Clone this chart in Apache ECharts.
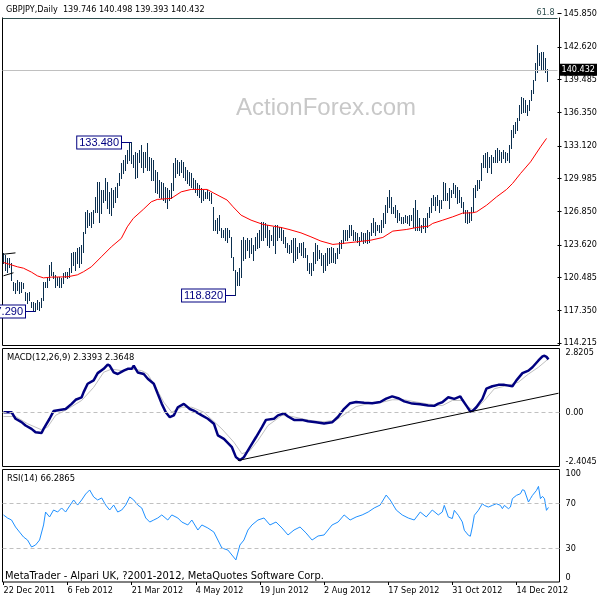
<!DOCTYPE html>
<html>
<head>
<meta charset="utf-8">
<title>GBPJPY Daily</title>
<script src="https://cdn.jsdelivr.net/npm/echarts@6.0.0/dist/echarts.min.js"></script>
<style>
  html, body { margin: 0; padding: 0; background: #fff; }
  #chart { width: 600px; height: 600px; }
</style>
</head>
<body>
<div id="chart"></div>
<script>
// daily bars, index 0 = 22 Dec 2011, one slot per weekday
const highs = [
  122.79,122.63,122.31,122.31,121.83,120.07,119.91,120.23,120.07,120.07,
  119.91,119.11,118.95,119.11,118.15,118.15,117.99,118.31,118.15,118.47,
  120.07,120.07,120.39,121.67,121.99,121.03,120.71,120.55,120.55,120.39,
  120.87,121.03,121.03,121.35,122.79,122.95,122.95,123.27,123.43,123.59,
  124.87,126.79,126.96,126.64,126.79,126.96,128.24,129.68,129.68,128.88,
  128.88,130.00,129.68,128.72,129.04,128.88,129.20,129.52,130.48,131.44,
  131.76,132.24,132.72,133.36,133.48,132.24,132.56,132.40,132.72,133.20,
  132.56,132.56,133.36,132.08,
  131.92,131.76,130.80,130.64,129.84,129.68,129.52,129.20,129.04,128.88,
  129.52,131.44,131.92,131.76,131.60,131.76,131.60,131.12,130.80,130.64,
  130.48,130.00,129.84,129.52,129.36,129.04,128.88,128.72,128.88,128.72,
  128.56,127.28,126.00,126.16,126.48,125.19,125.03,125.19,125.19,125.03,
  124.39,122.47,121.19,121.03,121.35,124.07,124.39,124.07,124.23,124.07,
  124.23,123.59,124.39,124.71,125.03,125.83,125.83,125.67,125.51,125.03,
  124.55,125.35,125.51,125.51,125.35,125.35,125.03,124.39,123.75,123.59,
  124.07,124.23,124.23,123.43,123.75,123.75,123.91,123.27,122.63,121.83,
  121.83,122.95,123.75,123.59,123.11,122.79,122.63,122.79,123.27,123.27,
  123.43,123.27,122.79,123.27,123.91,124.07,125.03,125.03,125.03,125.51,
  125.51,125.03,124.87,124.71,124.39,124.87,124.71,124.71,125.03,124.87,
  125.67,126.16,125.83,125.51,125.51,125.99,126.64,127.44,128.24,128.88,
  128.24,127.28,127.44,126.96,126.64,126.32,126.32,126.48,126.40,126.48,
  126.48,127.12,127.92,126.96,126.16,125.51,126.16,126.16,126.64,127.28,
  128.08,128.40,128.24,128.40,127.92,127.92,129.68,129.52,128.56,129.04,
  128.88,129.52,129.36,129.20,128.88,128.24,127.76,126.96,126.96,126.80,
  127.28,129.04,129.36,129.84,129.84,131.44,132.24,132.40,132.56,132.08,
  132.24,132.08,132.72,132.88,132.72,132.56,132.72,132.56,132.40,133.20,
  134.64,135.12,135.44,135.76,137.05,137.85,137.69,137.53,137.05,137.53,
  138.49,139.45,141.05,142.81,142.01,142.17,142.17,141.53,140.498
];
const lows = [
  121.90,121.19,121.03,121.51,120.23,119.27,118.95,119.27,118.95,119.11,
  119.43,118.31,117.99,118.31,117.67,117.35,117.29,117.45,117.35,117.67,
  118.31,119.59,119.59,120.23,120.71,120.39,119.59,119.75,119.59,119.59,
  119.91,120.55,120.39,120.55,121.03,121.67,121.19,121.83,121.51,121.83,
  122.95,124.71,125.35,125.51,125.35,125.67,126.79,126.79,125.83,126.64,
  127.76,127.92,127.12,126.64,126.48,127.28,127.76,128.24,129.36,130.00,
  130.48,130.80,131.44,131.76,131.44,131.12,130.00,130.16,131.60,131.12,
  130.64,131.12,130.80,130.80,
  129.84,129.84,128.72,128.56,128.24,128.08,127.92,127.76,127.12,127.92,
  128.08,128.88,130.16,130.48,130.32,130.64,130.16,129.84,129.52,129.36,
  129.20,129.04,128.72,128.40,128.24,127.76,127.92,128.08,128.08,127.92,
  127.60,125.03,125.03,124.71,125.03,124.39,124.39,124.07,123.91,124.39,
  122.47,121.19,118.82,119.75,119.75,120.55,122.15,122.31,123.11,122.47,
  122.79,122.15,123.11,123.27,123.43,124.07,124.07,124.39,123.59,123.43,
  124.07,123.59,122.79,124.07,124.39,124.07,123.75,123.43,122.95,122.79,
  122.95,121.99,122.15,122.31,122.95,122.63,122.47,122.47,121.19,120.87,
  120.71,121.19,121.83,122.15,122.31,121.67,121.03,121.19,121.67,121.83,
  121.99,121.99,121.83,122.31,122.79,123.27,123.75,124.07,124.07,124.39,
  124.55,124.07,124.07,123.91,123.59,124.07,123.75,123.91,123.75,123.91,
  124.55,124.87,124.55,125.03,124.87,124.87,125.35,125.67,126.80,127.28,
  126.64,126.64,126.32,125.83,126.00,125.67,125.67,125.83,125.67,125.51,
  126.00,125.35,125.03,125.03,125.03,124.87,125.19,124.87,125.35,126.32,
  126.80,127.44,126.96,127.44,126.80,127.12,127.92,127.92,127.92,127.12,
  128.24,128.56,128.24,127.60,127.76,127.28,126.64,125.84,125.68,125.84,
  126.00,126.80,128.24,128.88,129.04,129.84,131.12,131.12,130.64,131.12,
  130.48,131.60,131.60,131.60,131.76,131.60,131.92,131.60,131.76,131.60,
  132.88,134.00,134.32,134.64,135.60,136.24,136.40,136.40,136.08,136.56,
  137.53,138.17,139.45,140.25,140.89,140.41,140.41,140.25,139.393
];

// moving average: [bar, price]
const maLine = [
  [0,121.93],[7,121.51],[10,121.38],[14,121.00],[17,120.64],[20,120.45],[24,120.52],[32,120.55],
  [37,120.74],[40,121.03],[44,121.51],[49,122.47],[54,123.43],[59,124.24],[62,125.35],[65,126.16],
  [70,127.02],[74,127.75],[77,127.98],[84,128.08],[89,128.71],[94,128.94],[102,128.94],[105,128.62],
  [112,127.92],[115,127.27],[119,126.47],[124,125.99],[130,125.58],[139,125.29],[143,125.10],
  [149,124.77],[154,124.39],[159,123.98],[165,123.66],[170,123.76],[177,123.91],[184,124.07],
  [190,124.33],[195,124.94],[202,125.10],[207,125.29],[213,125.42],[215,125.68],[220,125.99],
  [225,126.31],[230,126.67],[235,126.70],[237,126.79],[242,127.43],[247,128.23],[252,128.94],
  [255,129.52],[259,130.48],[264,131.59],[269,133.03],[272,133.84]
];

// MACD(12,26,9): [bar, value]
const macdMain = [
  [0,0.00],[4,0.00],[6,-0.29],[9,-0.44],[11,-0.59],[14,-0.74],[16,-0.89],[19,-0.92],[20,-0.74],
  [23,-0.29],[25,0.05],[28,0.10],[31,0.14],[34,0.37],[36,0.55],[39,0.66],[40,0.89],[42,1.26],
  [45,1.41],[47,1.73],[50,1.92],[52,2.11],[53,2.06],[55,1.76],[57,1.69],[60,1.84],[62,1.92],
  [64,1.92],[65,2.06],[67,1.76],[70,1.69],[72,1.48],[75,1.26],[77,0.81],[79,0.37],[81,0.00],
  [83,-0.22],[85,-0.14],[87,0.22],[90,0.37],[93,0.14],[95,0.07],[99,-0.14],[102,-0.29],
  [105,-0.51],[107,-1.03],[110,-1.18],[114,-1.55],[116,-1.99],[118,-2.13],[120,-1.99],
  [123,-1.55],[126,-1.11],[129,-0.66],[131,-0.34],[135,-0.29],[137,-0.14],[140,-0.05],
  [142,-0.19],[145,-0.34],[149,-0.34],[152,-0.40],[156,-0.45],[160,-0.50],[164,-0.45],
  [167,-0.20],[170,0.15],[173,0.40],[176,0.45],[180,0.42],[184,0.40],[188,0.45],[191,0.60],
  [194,0.70],[197,0.62],[200,0.48],[204,0.38],[208,0.35],[212,0.30],[215,0.28],[217,0.38],
  [219,0.44],[222,0.66],[225,0.59],[228,0.70],[229,0.55],[231,0.29],[233,0.03],[234,0.05],
  [236,0.22],[239,0.59],[241,1.04],[244,1.15],[247,1.21],[250,1.21],[254,1.15],[256,1.41],
  [259,1.73],[262,1.84],[264,1.99],[267,2.29],[269,2.47],[270,2.50],[271,2.45],[272,2.3393]
];
const macdSignal = [
  [0,-0.19],[6,-0.19],[12,-0.51],[19,-0.78],[22,-0.66],[26,-0.14],[32,0.14],[39,0.52],
  [45,1.10],[50,1.77],[54,1.91],[59,1.84],[64,1.91],[69,1.84],[72,1.69],[76,1.10],[80,0.44],
  [84,0.00],[89,0.22],[94,0.22],[100,0.00],[109,-0.74],[115,-1.33],[119,-1.84],[123,-1.70],
  [127,-1.25],[132,-0.59],[139,-0.14],[144,-0.19],[149,-0.29],[154,-0.38],[160,-0.42],
  [166,-0.35],[171,-0.05],[176,0.25],[182,0.38],[188,0.42],[194,0.55],[200,0.55],[206,0.45],
  [212,0.36],[216,0.32],[219,0.29],[224,0.52],[229,0.52],[232,0.22],[235,0.07],[240,0.52],
  [245,1.04],[252,1.19],[257,1.33],[262,1.69],[267,1.99],[272,2.3648]
];
const macdTrend = [[117,-2.14],[277,0.84]];

// RSI(14): [bar, value]
const rsiLine = [
  [0,59.6],[2,56.9],[4,55.1],[6,48.9],[8,44.4],[10,40.0],[12,37.3],[14,31.1],[16,32.9],[18,37.3],
  [20,50.7],[21,62.2],[23,57.8],[25,64.0],[27,62.2],[29,65.8],[31,62.2],[33,67.6],[35,72.9],[37,68.4],
  [39,72.9],[41,78.2],[43,81.8],[45,75.6],[47,72.9],[49,74.7],[51,68.4],[53,64.0],[55,68.4],[57,62.2],
  [59,64.0],[61,68.4],[63,75.6],[65,72.9],[67,68.4],[69,65.8],[71,56.9],[73,53.3],[75,55.1],[77,56.9],
  [79,59.6],[82,55.1],[84,59.6],[87,56.9],[89,53.3],[92,50.7],[94,55.1],[97,46.2],[99,50.7],[102,48.0],
  [105,44.4],[107,37.3],[109,30.2],[112,28.4],[114,24.0],[116,19.6],[118,32.9],[120,37.3],[122,46.2],
  [124,50.7],[127,55.1],[130,56.9],[133,50.7],[136,53.3],[139,48.0],[142,41.8],[145,46.2],[148,48.9],
  [151,43.6],[154,37.3],[157,40.9],[160,41.8],[164,50.7],[167,53.3],[170,59.6],[173,55.1],[176,57.8],
  [179,59.6],[182,62.2],[185,65.8],[188,68.4],[191,77.3],[193,72.9],[196,64.0],[199,59.6],[202,56.9],
  [205,55.1],[208,62.2],[211,57.8],[214,64.0],[217,59.6],
  [219,62.2],[220,68.1],[222,57.8],[224,56.4],[225,63.7],[227,59.3],[229,53.4],[230,46.0],[232,41.6],
  [233,40.7],[234,48.9],[235,59.3],[237,63.7],[239,69.6],[240,68.1],[242,66.6],[244,68.1],[246,69.6],
  [248,68.1],[249,65.2],[250,68.1],[252,65.2],[253,66.6],[254,74.1],[256,77.0],[258,78.5],[259,82.0],
  [260,81.4],[262,71.1],[263,74.1],[264,77.0],[266,81.4],[267,85.0],[268,74.1],[269,76.1],[270,74.1],
  [271,63.7],[272,66.29]
];

// short black line stubs at the left edge of the price panel
const stubTop = [[0,122.72],[6,122.85]];
const stubBottom = [[0,120.65],[5,120.94]];

const peakLabels = [
  { bar: 64, price: 133.48 },
  { bar: 116, price: 118.82 },
  { bar: 16, price: 117.29 }
];

const dateLabels = ['22 Dec 2011','6 Feb 2012','21 Mar 2012','4 May 2012','19 Jun 2012',
  '2 Aug 2012','17 Sep 2012','31 Oct 2012','14 Dec 2012'];
const labelStep = 32;
const slotCount = 278;
const priceTicks = [145.850,142.620,139.485,136.350,133.120,129.985,126.850,123.620,120.485,117.350,114.215];
const macdTicks = [2.8205, 0, -2.4045];
const rsiTicks = [100, 70, 30, 0];
const rsiLevels = [70, 30];
const lastPrice = 140.432;
const fibLevel = 145.40;

const font = "'DejaVu Sans Condensed', 'Liberation Sans', sans-serif";
const boxFont = "'Liberation Sans', sans-serif";
const barColor = '#0b2f4f';

const slots = [];
for (let i = 0; i < slotCount; i++) slots.push(i);

const chart = echarts.init(document.getElementById('chart'), null, { renderer: 'canvas' });

const catAxis = (gridIndex) => ({
  gridIndex,
  type: 'category',
  data: slots,
  boundaryGap: true,
  axisLine: { show: false },
  axisTick: { show: false },
  axisLabel: { show: false },
  splitLine: { show: false }
});

const sideLabel = {
  color: '#000',
  fontSize: 9,
  fontFamily: font,
  margin: 6
};

chart.setOption({
  animation: false,
  backgroundColor: '#fff',
  grid: [
    { left: 2.5, right: 40.5, top: 2, height: 343.5, show: false },
    { left: 2.5, right: 40.5, top: 348.5, height: 118, show: true, borderColor: '#000', borderWidth: 1 },
    { left: 2.5, right: 40.5, top: 469.5, height: 112.5, show: true, borderColor: '#000', borderWidth: 1 }
  ],
  xAxis: [
    catAxis(0),
    catAxis(1),
    Object.assign(catAxis(2), {
      axisTick: {
        show: true, length: 3, alignWithLabel: true,
        interval: (i) => i % labelStep === 0,
        lineStyle: { color: '#000' }
      },
      axisLabel: {
        show: true,
        interval: (i) => i % labelStep === 0,
        formatter: (v, i) => dateLabels[i / labelStep] || '',
        align: 'left',
        color: '#000',
        fontSize: 9,
        fontFamily: font,
        margin: 4
      }
    })
  ],
  yAxis: [
    {
      gridIndex: 0, type: 'value', position: 'right',
      min: 113.957, max: 146.935,
      axisLine: { show: false },
      splitLine: { show: false },
      axisTick: { show: true, length: 4, customValues: priceTicks, lineStyle: { color: '#000' } },
      axisLabel: Object.assign({}, sideLabel, {
        customValues: priceTicks,
        formatter: (v) => v.toFixed(3)
      })
    },
    {
      gridIndex: 1, type: 'value', position: 'right',
      min: -2.4045, max: 2.8205,
      axisLine: { show: false },
      splitLine: { show: false },
      axisTick: { show: false },
      axisLabel: Object.assign({}, sideLabel, {
        customValues: macdTicks,
        formatter: (v) => (v === 0 ? '0.00' : String(v)),
        verticalAlignMaxLabel: 'bottom',
        verticalAlignMinLabel: 'top'
      })
    },
    {
      gridIndex: 2, type: 'value', position: 'right',
      min: 0, max: 100,
      axisLine: { show: false },
      splitLine: { show: false },
      axisTick: { show: false },
      axisLabel: Object.assign({}, sideLabel, {
        customValues: rsiTicks,
        verticalAlignMaxLabel: 'bottom',
        verticalAlignMinLabel: 'top'
      })
    }
  ],
  series: [
    {
      name: 'GBPJPY',
      type: 'custom',
      xAxisIndex: 0, yAxisIndex: 0,
      data: highs.map((h, i) => [i, lows[i], h]),
      encode: { x: 0, y: [1, 2] },
      renderItem: (params, api) => {
        const lo = api.coord([api.value(0), api.value(1)]);
        const hi = api.coord([api.value(0), api.value(2)]);
        const x = Math.round(lo[0]) + 0.5;
        return {
          type: 'line',
          shape: { x1: x, y1: Math.round(hi[1]), x2: x, y2: Math.round(lo[1]) + 1 },
          style: { stroke: barColor, lineWidth: 1 }
        };
      },
      z: 3
    },
    {
      name: 'MA',
      type: 'line',
      xAxisIndex: 0, yAxisIndex: 0,
      data: maLine,
      symbol: 'none',
      lineStyle: { color: '#ff0000', width: 1 },
      z: 4,
      markLine: {
        silent: true,
        symbol: 'none',
        data: [
          {
            yAxis: lastPrice,
            lineStyle: { color: '#c0c0c0', type: 'solid', width: 1 },
            label: {
              show: true, position: 'end', distance: 2,
              formatter: lastPrice.toFixed(3),
              color: '#fff', backgroundColor: '#000',
              fontSize: 9, fontFamily: font, padding: [2, 2, 1, 2]
            }
          },
          {
            yAxis: fibLevel,
            lineStyle: { color: '#2f4f4f', type: 'solid', width: 1 },
            label: {
              show: true, position: 'insideEndTop', distance: [3, 1],
              formatter: '61.8', color: '#2f4f4f',
              fontSize: 9, fontFamily: font
            }
          }
        ]
      }
    },
    {
      type: 'line', xAxisIndex: 0, yAxisIndex: 0, data: stubTop,
      symbol: 'none', lineStyle: { color: '#000', width: 1 }
    },
    {
      type: 'line', xAxisIndex: 0, yAxisIndex: 0, data: stubBottom,
      symbol: 'none', lineStyle: { color: '#000', width: 1 }
    },
    {
      name: 'Signal',
      type: 'line',
      xAxisIndex: 1, yAxisIndex: 1,
      data: macdSignal,
      symbol: 'none',
      lineStyle: { color: '#c0c0c0', width: 1 },
      markLine: {
        silent: true, symbol: 'none',
        label: { show: false },
        lineStyle: { color: '#c0c0c0', type: [4, 3], width: 1 },
        data: [{ yAxis: 0 }]
      }
    },
    {
      name: 'MACD',
      type: 'line',
      xAxisIndex: 1, yAxisIndex: 1,
      data: macdMain,
      symbol: 'none',
      lineStyle: { color: '#000080', width: 2.5 },
      z: 4
    },
    {
      name: 'Trend',
      type: 'line',
      xAxisIndex: 1, yAxisIndex: 1,
      data: macdTrend,
      symbol: 'none',
      lineStyle: { color: '#000', width: 1 },
      z: 5
    },
    {
      name: 'RSI',
      type: 'line',
      xAxisIndex: 2, yAxisIndex: 2,
      data: rsiLine,
      symbol: 'none',
      lineStyle: { color: '#1e90ff', width: 1 },
      markLine: {
        silent: true, symbol: 'none',
        label: { show: false },
        lineStyle: { color: '#c0c0c0', type: [4, 3], width: 1 },
        data: rsiLevels.map((v) => ({ yAxis: v }))
      }
    }
  ]
});

// texts, frame and price callouts
const graphics = [
  {
    type: 'polyline', silent: true,
    shape: { points: [[2.5, 17.5], [2.5, 345.5], [559.5, 345.5], [559.5, 17.5]] },
    style: { stroke: '#000', lineWidth: 1, fill: null }
  },
  {
    type: 'text', x: 6, y: 5, silent: true,
    style: { text: 'GBPJPY,Daily  139.746 140.498 139.393 140.432', fill: '#000', fontSize: 9, fontFamily: font }
  },
  {
    type: 'text', x: 236, y: 108, silent: true, z: -1,
    style: { text: 'ActionForex.com', fill: '#c8c8c8', fontSize: 24, fontFamily: boxFont, verticalAlign: 'middle' }
  },
  {
    type: 'text', x: 7, y: 353, silent: true,
    style: { text: 'MACD(12,26,9) 2.3393 2.3648', fill: '#000', fontSize: 9.3, fontFamily: font }
  },
  {
    type: 'text', x: 7, y: 474, silent: true,
    style: { text: 'RSI(14) 66.2865', fill: '#000', fontSize: 9.3, fontFamily: font }
  },
  {
    type: 'text', x: 5, y: 571, silent: true,
    style: { text: 'MetaTrader - Alpari UK, ?2001-2012, MetaQuotes Software Corp.', fill: '#000', fontSize: 11, fontFamily: font }
  }
];

peakLabels.forEach((p) => {
  const pt = chart.convertToPixel({ gridIndex: 0 }, [p.bar, p.price]);
  const bx = Math.round(pt[0]);
  const by = Math.round(pt[1]) + 0.5;
  graphics.push({
    type: 'line', silent: true,
    shape: { x1: bx - 10, y1: by, x2: bx, y2: by },
    style: { stroke: '#000080', lineWidth: 1 }
  });
  graphics.push({
    type: 'text', silent: true, x: bx - 10, y: by,
    style: {
      text: p.price.toFixed(3), align: 'right', verticalAlign: 'middle',
      fill: '#000080', fontSize: 11, fontFamily: boxFont,
      backgroundColor: '#fff', borderColor: '#000080', borderWidth: 1,
      padding: [1, 2, 0, 2]
    }
  });
});

chart.setOption({ graphic: graphics });
</script>
</body>
</html>
